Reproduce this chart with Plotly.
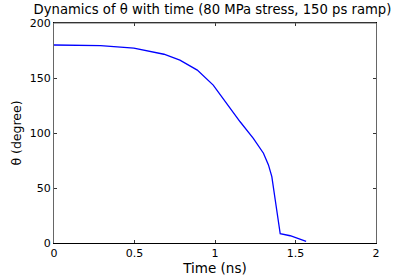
import plotly.graph_objects as go

time_ns = [0.0, 0.289, 0.496, 0.683, 0.782, 0.89, 0.989, 1.073, 1.156, 1.238, 1.301, 1.332, 1.353, 1.374, 1.395, 1.405, 1.467, 1.566]
theta_deg = [180.0, 179.4, 177.1, 171.6, 166.2, 157.2, 143.5, 126.9, 110.2, 95.2, 81.6, 71.0, 60.4, 39.3, 15.0, 8.4, 6.6, 1.5]

x_ticks = [0, 0.5, 1, 1.5, 2]
x_labels = ["0", "0.5", "1", "1.5", "2"]
y_ticks = [0, 50, 100, 150, 200]

font = "DejaVu Sans, Verdana, sans-serif"

fig = go.Figure(go.Scatter(x=time_ns, y=theta_deg, mode="lines",
                           line=dict(color="#0000ff", width=1.3)))

fig.update_layout(
    width=415, height=277,
    margin=dict(l=54, r=39, t=23, b=34),
    paper_bgcolor="white", plot_bgcolor="white",
    showlegend=False,
    font=dict(family=font, size=11, color="black"),
    title=dict(text="Dynamics of θ with time (80 MPa stress, 150 ps ramp)",
               x=0.512, xanchor="center", y=0.984, yanchor="top",
               font=dict(family=font, size=13.2, color="black")),
    xaxis=dict(range=[0, 2], tickvals=x_ticks, ticktext=x_labels,
               showgrid=False, zeroline=False, automargin=False,
               showline=True, linecolor="black", linewidth=1, mirror="ticks",
               ticks="inside", ticklen=3, tickcolor="#333",
               title=dict(text="Time (ns)", standoff=1, font=dict(size=13.5))),
    yaxis=dict(range=[0, 200], tickvals=y_ticks,
               showgrid=False, zeroline=False, automargin=False,
               showline=True, linecolor="#666", linewidth=1, mirror="ticks",
               ticks="inside", ticklen=3, tickcolor="#333",
               title=dict(text="θ (degree)", standoff=5, font=dict(size=12.5))),
)
fig.add_shape(type="line", xref="paper", yref="paper", x0=0, x1=1, y0=1, y1=1,
              line=dict(color="#666", width=1))

fig.write_html("out.html", config={"displayModeBar": False},
               post_script="document.body.style.margin='0';document.body.style.overflow='hidden';")
